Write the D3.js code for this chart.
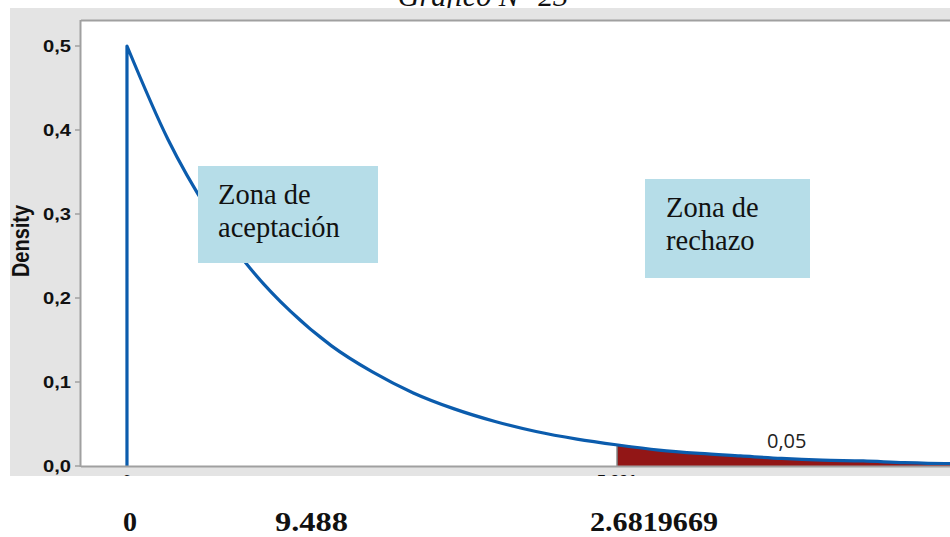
<!DOCTYPE html>
<html><head><meta charset="utf-8">
<script src="https://cdn.jsdelivr.net/npm/d3@7"></script>
<style>html,body{margin:0;padding:0;background:#fff;overflow:hidden}</style>
</head><body>
<svg id="chart" width="950" height="537"></svg>
<script>
// ---- data ----
const xValues = [0, 0.5, 1, 1.5, 2, 2.5, 3, 3.5, 4, 4.5, 5, 5.5, 6, 6.5, 7, 7.5, 8, 8.5, 9, 9.5, 10, 10.1];
const densityValues = [0.500, 0.389, 0.303, 0.236, 0.184, 0.143, 0.112, 0.087, 0.068, 0.053, 0.041, 0.032, 0.025, 0.019, 0.015, 0.012, 0.009, 0.007, 0.006, 0.004, 0.003, 0.003];
const criticalValue = 5.991;
const criticalDensity = 0.025;
const alphaLabel = "0,05";
const yTickValues = [0, 0.1, 0.2, 0.3, 0.4, 0.5];
const yTickLabels = ["0,0", "0,1", "0,2", "0,3", "0,4", "0,5"];
const xTickValues = [0, 5.991];
const xTickLabels = ["0", "5,991"];
const yAxisTitle = "Density";
const chartTitle = "Gráfico N° 23";
const acceptLines = ["Zona de", "aceptación"];
const rejectLines = ["Zona de", "rechazo"];
const bottomLabels = ["0", "9.488", "2.6819669"];

const svg = d3.select("#chart");
const plot = {left: 81, right: 950, top: 21, bottom: 466};

const x = d3.scaleLinear().domain([-0.562, 10.06]).range([plot.left, plot.right]);
const y = d3.scaleLinear().domain([0, 0.5]).range([plot.bottom, 46]);

// title (partly cut off by the page top)
svg.append("text").attr("x", 483).attr("y", 6).attr("text-anchor", "middle")
  .attr("font-family", "Liberation Serif").attr("font-style", "italic").attr("font-size", 30)
  .attr("fill", "#111").text(chartTitle);

// gray panel (clipped at bottom)
svg.append("rect").attr("x", 10).attr("y", 8).attr("width", 940).attr("height", 468).attr("fill", "#e4e4e4");
svg.append("clipPath").attr("id", "panelClip").append("rect").attr("x", 10).attr("y", 8).attr("width", 940).attr("height", 468);
svg.append("rect").attr("x", plot.left).attr("y", plot.top).attr("width", plot.right - plot.left)
  .attr("height", plot.bottom - plot.top).attr("fill", "#fff");

svg.append("clipPath").attr("id", "plotClip").append("rect").attr("x", plot.left).attr("y", plot.top)
  .attr("width", plot.right - plot.left).attr("height", plot.bottom - plot.top);

const pts = xValues.map((v, i) => [v, densityValues[i]]);

// rejection area
const tail = [[criticalValue, criticalDensity]].concat(pts.filter(p => p[0] > criticalValue));
const g = svg.append("g").attr("clip-path", "url(#plotClip)");
g.append("path").datum(tail)
  .attr("d", d3.area().x(d => x(d[0])).y0(y(0)).y1(d => y(d[1])).curve(d3.curveMonotoneX))
  .attr("fill", "#921616");
g.append("line").attr("x1", x(criticalValue)).attr("x2", x(criticalValue))
  .attr("y1", y(0)).attr("y2", y(criticalDensity)).attr("stroke", "#777").attr("stroke-width", 1.5);

// density curve with vertical start line
const line = d3.line().x(d => x(d[0])).y(d => y(d[1])).curve(d3.curveMonotoneX);
g.append("path").datum(pts).attr("d", "M" + x(0) + "," + y(0) + "L" + line(pts).slice(1))
  .attr("fill", "none").attr("stroke", "#0b5cad").attr("stroke-width", 3.2).attr("stroke-linejoin", "round");

// axes lines / borders
svg.append("line").attr("x1", plot.left).attr("x2", plot.right).attr("y1", plot.top - 0.5).attr("y2", plot.top - 0.5)
  .attr("stroke", "#a0a0a0").attr("stroke-width", 2);
svg.append("line").attr("x1", plot.left - 0.5).attr("x2", plot.left - 0.5).attr("y1", plot.top - 1).attr("y2", plot.bottom + 1)
  .attr("stroke", "#a0a0a0").attr("stroke-width", 2);
svg.append("line").attr("x1", plot.left).attr("x2", plot.right).attr("y1", plot.bottom + 0.5).attr("y2", plot.bottom + 0.5)
  .attr("stroke", "#a0a0a0").attr("stroke-width", 2);

// y axis
const yAxis = svg.append("g");
yTickValues.forEach((v, i) => {
  yAxis.append("line").attr("x1", 75).attr("x2", plot.left).attr("y1", y(v)).attr("y2", y(v))
    .attr("stroke", "#a0a0a0").attr("stroke-width", 1.5);
  yAxis.append("text").attr("x", 71).attr("y", y(v) + 6).attr("text-anchor", "end")
    .attr("font-family", "Liberation Sans").attr("font-weight", "bold").attr("font-size", 16)
    .attr("textLength", 28).attr("lengthAdjust", "spacingAndGlyphs")
    .attr("fill", "#111").text(yTickLabels[i]);
});
svg.append("text").attr("transform", "translate(29,241) rotate(-90) scale(1,1.2)").attr("text-anchor", "middle")
  .attr("font-family", "Liberation Sans").attr("font-weight", "bold").attr("font-size", 20)
  .attr("fill", "#111").text(yAxisTitle);

// x tick labels (cut off by the panel edge)
const xAxis = svg.append("g").attr("clip-path", "url(#panelClip)");
xTickValues.forEach((v, i) => {
  xAxis.append("text").attr("x", x(v)).attr("y", 487).attr("text-anchor", "middle")
    .attr("font-family", "Liberation Sans").attr("font-weight", "bold").attr("font-size", 16)
    .attr("fill", "#111").text(xTickLabels[i]);
});

// alpha label
svg.append("text").attr("x", 767).attr("y", 448).attr("font-family", "Open Sans").attr("font-size", 20)
  .attr("fill", "#222").text(alphaLabel);

// boxes
function box(x0, y0, w, h, lines, tx, ty) {
  svg.append("rect").attr("x", x0).attr("y", y0).attr("width", w).attr("height", h).attr("fill", "#b6dde8");
  lines.forEach((t, i) => svg.append("text").attr("x", tx).attr("y", ty + i * 33)
    .attr("font-family", "Liberation Serif").attr("font-size", 28.5).attr("fill", "#111").text(t));
}
box(198, 166, 180, 97, acceptLines, 218, 204);
box(645, 179, 165, 99, rejectLines, 666, 217);

// bottom labels
const bx = [123, 275, 590];
const bw = [14, 73, 128];
bottomLabels.forEach((t, i) => svg.append("text").attr("x", bx[i]).attr("y", 531)
  .attr("font-family", "Liberation Serif").attr("font-weight", "bold").attr("font-size", 28)
  .attr("textLength", bw[i]).attr("lengthAdjust", "spacingAndGlyphs")
  .attr("fill", "#111").text(t));
</script>
</body></html>
